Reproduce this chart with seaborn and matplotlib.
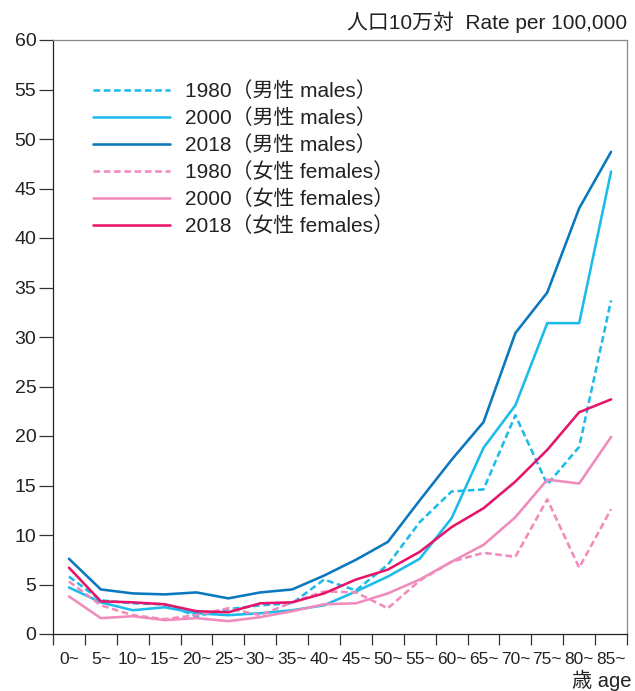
import numpy as np
import pandas as pd
import matplotlib
matplotlib.use("Agg")
import matplotlib.pyplot as plt
import seaborn as sns

# Age groups (5-year bands, 85+ last)
age_groups = ["0~", "5~", "10~", "15~", "20~", "25~", "30~", "35~", "40~",
              "45~", "50~", "55~", "60~", "65~", "70~", "75~", "80~", "85~"]

# Rate per 100,000 population
males_1980 = [5.8, 3.4, 3.1, 3.0, 1.8, 2.5, 2.9, 3.1, 5.5, 4.4, 7.0, 11.3, 14.4, 14.6, 22.1, 15.1, 18.9, 33.7]
males_2000 = [4.7, 3.2, 2.4, 2.7, 2.1, 1.9, 2.1, 2.4, 2.9, 4.3, 5.8, 7.6, 11.7, 18.8, 23.1, 31.4, 31.4, 46.7]
males_2018 = [7.6, 4.5, 4.1, 4.0, 4.2, 3.6, 4.2, 4.5, 5.9, 7.5, 9.3, 13.5, 17.6, 21.4, 30.4, 34.5, 43.0, 48.7]
females_1980 = [5.3, 2.9, 1.9, 1.5, 1.9, 2.6, 1.9, 3.2, 4.3, 4.2, 2.6, 5.4, 7.3, 8.2, 7.8, 13.6, 6.7, 12.6]
females_2000 = [3.8, 1.6, 1.8, 1.4, 1.6, 1.3, 1.7, 2.3, 3.0, 3.1, 4.1, 5.5, 7.3, 9.0, 11.8, 15.6, 15.2, 19.9]
females_2018 = [6.7, 3.3, 3.2, 3.0, 2.3, 2.2, 3.1, 3.2, 4.1, 5.5, 6.5, 8.3, 10.8, 12.7, 15.4, 18.6, 22.4, 23.7]

series_names = ["1980（男性 males）", "2000（男性 males）", "2018（男性 males）",
                "1980（女性 females）", "2000（女性 females）", "2018（女性 females）"]
series_values = [males_1980, males_2000, males_2018, females_1980, females_2000, females_2018]

colors = {
    series_names[0]: "#1CBBEC",
    series_names[1]: "#1CBBEC",
    series_names[2]: "#0A78BE",
    series_names[3]: "#F08BBB",
    series_names[4]: "#F08BBB",
    series_names[5]: "#E6156A",
}
dashes = {
    series_names[0]: (2.6, 1.4),
    series_names[1]: "",
    series_names[2]: "",
    series_names[3]: (2.6, 1.4),
    series_names[4]: "",
    series_names[5]: "",
}

rows = []
for name, vals in zip(series_names, series_values):
    for i, v in enumerate(vals):
        rows.append({"pos": i, "rate": v, "series": name})
df = pd.DataFrame(rows)

sns.set_theme(style="white")
plt.rcParams["font.family"] = ["Liberation Sans", "Noto Sans CJK JP"]

fig = plt.figure(figsize=(6.35, 6.91), dpi=100)
ax = fig.add_axes([53 / 635, 57 / 691, 574 / 635, 594 / 691])

sns.lineplot(data=df, x="pos", y="rate", hue="series", style="series",
             hue_order=series_names, style_order=series_names,
             palette=colors, dashes=dashes, linewidth=1.85, ax=ax)

ax.set_xlim(-0.5, len(age_groups) - 0.5)
ax.set_ylim(0, 60)
ax.set_xlabel("")
ax.set_ylabel("")

# y axis
ax.set_yticks(np.arange(0, 61, 5))
ax.tick_params(axis="y", which="major", direction="out", length=10, width=0.9,
               color="#333333", labelsize=14, labelcolor="#222222", pad=2, left=True)

# x axis: band boundaries as ticks, labels centred in each band
ax.set_xticks(np.arange(-0.5, len(age_groups), 1.0))
ax.set_xticklabels([])
ax.set_xticks(np.arange(len(age_groups)), minor=True)
ax.set_xticklabels(age_groups, minor=True)
ax.tick_params(axis="x", which="major", direction="out", length=8, width=0.9,
               color="#333333", bottom=True)
ax.tick_params(axis="x", which="minor", length=0, labelsize=12.5, labelcolor="#222222", pad=13)

for side in ["left", "bottom"]:
    ax.spines[side].set_color("#222222")
    ax.spines[side].set_linewidth(0.9)
for side in ["top", "right"]:
    ax.spines[side].set_color("#888888")
    ax.spines[side].set_linewidth(0.9)
    ax.spines[side].set_visible(True)

leg = ax.legend(loc="upper left", bbox_to_anchor=(0.07, 0.93), frameon=False,
                fontsize=15, handlelength=3.7, handletextpad=0.72,
                labelspacing=0.34, borderpad=0, borderaxespad=0)
for t in leg.get_texts():
    t.set_color("#222222")

fig.text(627 / 635, 1 - 22 / 691, "人口10万対  Rate per 100,000", ha="right", va="center",
         fontsize=15, color="#222222")
fig.text(632 / 635, 1 - 680 / 691, "歳 age", ha="right", va="center",
         fontsize=14.5, color="#222222")

fig.savefig("out.png", dpi=100)
